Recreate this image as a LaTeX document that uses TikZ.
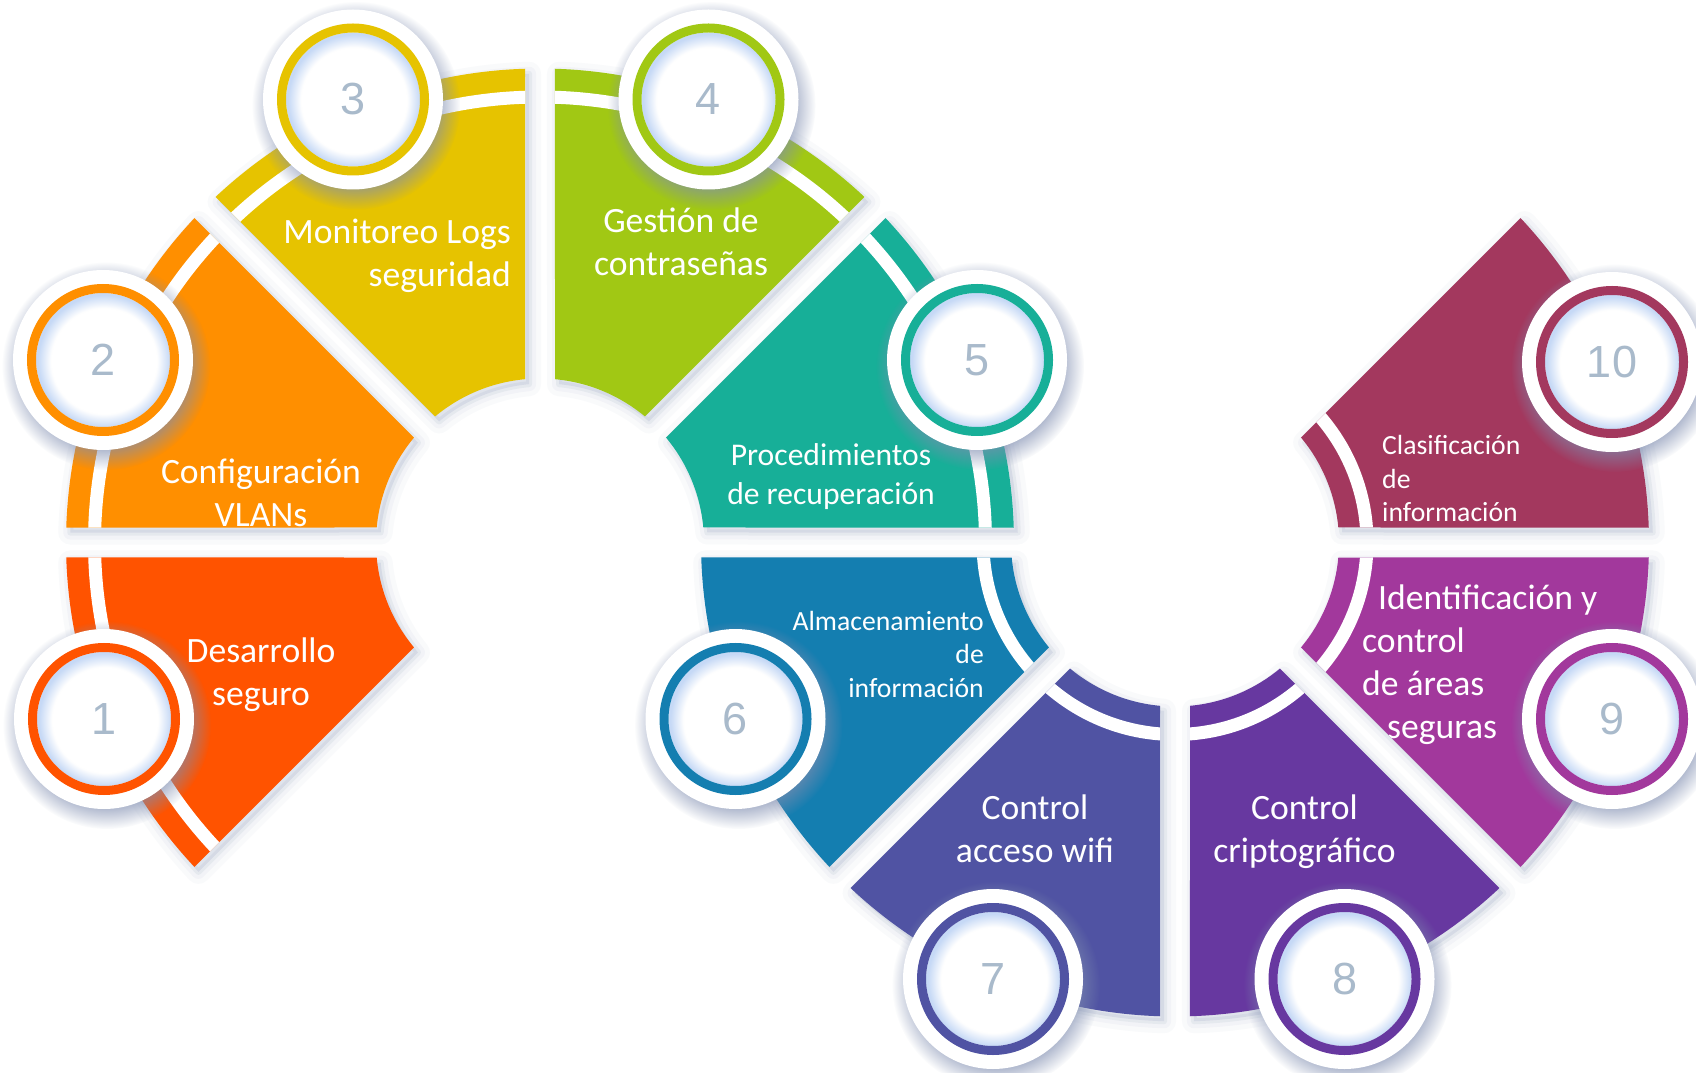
\documentclass[tikz,border=0pt]{standalone}
\usepackage{fontspec}
\setmainfont{Carlito}
\newfontfamily\numfont{Liberation Sans}
\usepackage{tikz}
\usetikzlibrary{calc, fadings}
\usepackage{xcolor}
\definecolor{seg1}{HTML}{FF5300}
\definecolor{seg2}{HTML}{FF8F00}
\definecolor{seg3}{HTML}{E6C300}
\definecolor{seg4}{HTML}{A1C814}
\definecolor{seg5}{HTML}{17AF98}
\definecolor{seg6}{HTML}{147EB0}
\definecolor{seg7}{HTML}{5053A3}
\definecolor{seg8}{HTML}{6738A0}
\definecolor{seg9}{HTML}{A2389C}
\definecolor{seg10}{HTML}{A3385E}
\definecolor{numgray}{HTML}{A9BACB}
\definecolor{shadowc}{HTML}{7F8DB0}
\definecolor{glassblue}{HTML}{C6D9F6}
% ring segment with parallel gaps: centre, start angle, end angle
\newcommand{\segpath}[3]{($(#1)+(#2+1.81:474)$) arc[start angle=#2+1.81, end angle=#3-1.81, radius=474] -- ($(#1)+(#3-5.25:164)$) arc[start angle=#3-5.25, end angle=#2+5.25, radius=164] -- cycle}
\newcommand{\lblines}[2]{\begin{tabular}[t]{@{}#1@{}}#2\end{tabular}}

\begin{document}
\begin{tikzpicture}[x=1pt, y=1pt,
    segtext/.style={text=white, inner sep=0pt, font=\fontsize{35.6}{43}\selectfont},
    midtext/.style={segtext, font=\fontsize{31.6}{39}\selectfont},
    smalltext/.style={segtext, font=\fontsize{27.7}{33.5}\selectfont},
    badge/.style={circle, inner sep=0pt, minimum size=180pt, fill=white, text=numgray,
      font=\numfont\fontsize{45}{45}\selectfont,
      path picture={
        \fill[glassblue] (path picture bounding box.center) circle (67);
        \fill[white, path fading=circle with fuzzy edge 20 percent] ($(path picture bounding box.center)+(1,-1)$) circle (66);
        \draw[#1, line width=9pt] (path picture bounding box.center) circle (71.5);}}]
  \useasboundingbox (0,0) rectangle (1696,1072);
  \fill[white] (0,0) rectangle (1696,1072);

  % --- Ring centres (A: segments 1-5, B: segments 6-10) ---
  \coordinate (A) at (540,529.5);
  \coordinate (B) at (1175,529.5);
  \coordinate (As) at (544,524.5);
  \coordinate (Bs) at (1179,524.5);

  % --- Soft shadows under the segments ---
  \foreach \cc/\a in {As/180, As/135, As/90, As/45, As/0, Bs/180, Bs/225, Bs/270, Bs/315, Bs/0} {
    \fill[shadowc, opacity=0.15] \segpath{\cc}{\a}{\a+45};
    \draw[shadowc, opacity=0.10, line width=6pt, line join=round] \segpath{\cc}{\a}{\a+45};
    \draw[shadowc, opacity=0.06, line width=14pt, line join=round] \segpath{\cc}{\a}{\a+45};
    \draw[shadowc, opacity=0.04, line width=24pt, line join=round] \segpath{\cc}{\a}{\a+45};
  }

  % --- Segments with their white stripe ---
  \foreach \i/\cc/\a/\sr in {1/A/180/445.5, 2/A/135/445.5, 3/A/90/445.5, 4/A/45/445.5, 5/A/0/445.5,
                             6/B/180/192, 7/B/225/192, 8/B/270/192, 9/B/315/192, 10/B/0/192} {
    \fill[seg\i] \segpath{\cc}{\a}{\a+45};
    \begin{scope}
      \clip \segpath{\cc}{\a}{\a+45};
      \draw[white, line width=13pt] (\cc) circle (\sr);
    \end{scope}
  }

  % --- Labels ---
  \node[segtext, anchor=base] (t1) at (261,410) {\lblines{c}{Desarrollo\\seguro}};
  \begin{scope}
    \clip \segpath{A}{135}{180};
    \node[segtext, anchor=base] (t2) at (261,588) {\lblines{c}{Configuración\\VLANs}};
  \end{scope}
  \node[segtext, anchor=base east] (t3) at (511,828) {\lblines{r}{Monitoreo Logs\\seguridad}};
  \node[segtext, anchor=base] (t4) at (681,839) {\lblines{c}{Gestión de\\contraseñas}};
  \node[midtext, anchor=base] (t5) at (831,606) {\lblines{c}{Procedimientos\\de recuperación}};
  \node[smalltext, anchor=base east] (t6) at (984,442) {\lblines{r}{Almacenamiento\\de\\información}};
  \node[segtext, anchor=base] (t7) at (1035,253) {\lblines{c}{Control\\acceso wifi}};
  \node[segtext, anchor=base] (t8) at (1304.5,253) {\lblines{c}{Control\\criptográfico}};
  \begin{scope}
    \clip \segpath{B}{315}{360};
    \node[segtext, anchor=base west] (t9) at (1362,463)
      {\lblines{l}{\hspace*{16pt}Identificación y\\control\\de áreas\\\hspace*{25pt}seguras}};
  \end{scope}
  \node[smalltext, anchor=base west] (t10) at (1382,617) {\lblines{l}{Clasificación\\de\\información}};

  % --- Numbered badges ---
  \coordinate (c1) at (104,353);
  \coordinate (c2) at (103,712);
  \coordinate (c3) at (353,972.5);
  \coordinate (c4) at (708.5,972.5);
  \coordinate (c5) at (977,712);
  \coordinate (c6) at (735.5,353);
  \coordinate (c7) at (993,93);
  \coordinate (c8) at (1344.5,93);
  \coordinate (c9) at (1612,353);
  \coordinate (c10) at (1612,710);
  \foreach \i in {1,...,10}
    \fill[shadowc, opacity=0.6, path fading=circle with fuzzy edge 20 percent] ($(c\i)+(3,-6)$) circle (104);
  \foreach \i in {1,...,10}
    \node[badge=seg\i] (n\i) at (c\i) {\i};
\end{tikzpicture}
\end{document}
